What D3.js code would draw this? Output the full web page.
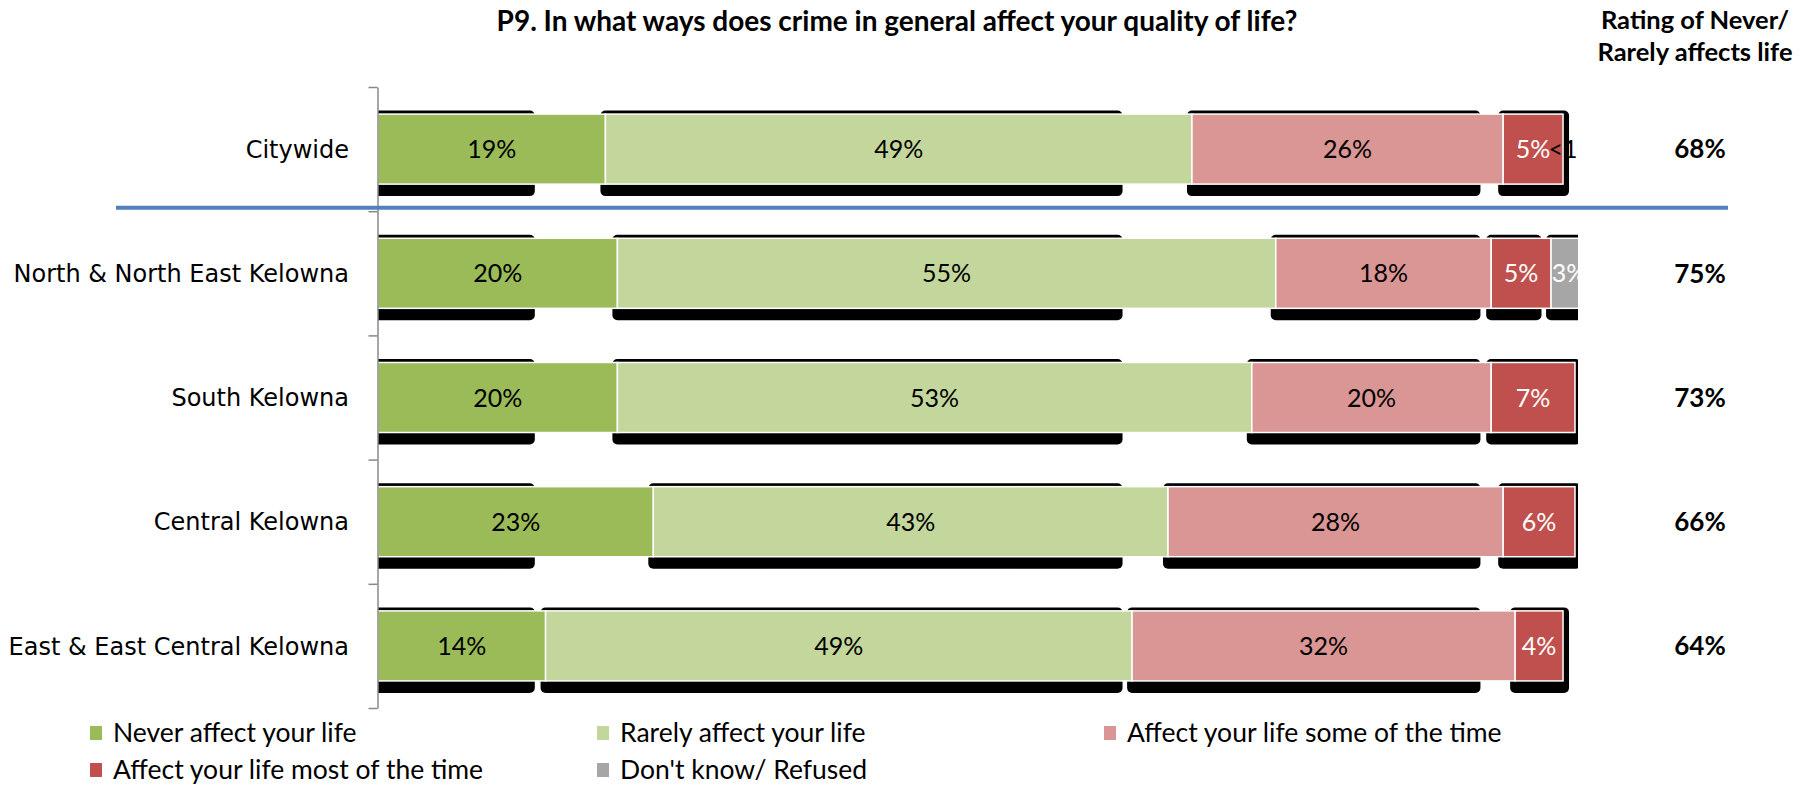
<!DOCTYPE html>
<html><head><meta charset="utf-8">
<script src="https://cdn.jsdelivr.net/npm/d3@7"></script>
<style>body{margin:0;background:#fff} svg{display:block}</style>
</head><body><svg id="c" width="1814" height="786"></svg>
<script>
const categories = ["Citywide","North & North East Kelowna","South Kelowna","Central Kelowna","East & East Central Kelowna"];
const seriesNames = ["Never affect your life","Rarely affect your life","Affect your life some of the time","Affect your life most of the time","Don't know/ Refused"];
const neverVals  = [19,20,20,23,14];
const rarelyVals = [49,55,53,43,49];
const someVals   = [26,18,20,28,32];
const mostVals   = [5,5,7,6,4];
const dkVals     = [0,3,0,0,0];
const dkLabels   = ["<1","3%","","",""];
const ratingVals = [68,75,73,66,64];
const titleText = "P9. In what ways does crime in general affect your quality of life?";
const ratingHeader = ["Rating of Never/","Rarely affects life"];

const colors = ["#9BBB59","#C3D69B","#D99694","#C0504D","#A6A6A6"];
const labelColors = ["#000","#000","#000","#fff","#fff"];
const shadowCut = [13.1, 62.2, 92.1, 97.2];

const svg = d3.select("#c");
const x = d3.scaleLinear().domain([0,100]).range([378,1575]);
const y = d3.scaleBand().domain(categories).range([87,708]).paddingInner(0.436).paddingOuter(0.218);
const yLin = d3.scaleLinear().domain([0,categories.length]).range([87,708]);
const bw = y.bandwidth();

const series = [neverVals, rarelyVals, someVals, mostVals, dkVals];
const rows = categories.map((c,ci)=>{
  let acc = 0;
  const segs = series.map((s,si)=>{ const o={ci,si,cat:c,v:s[ci],x0:acc,x1:acc+s[ci]}; acc+=s[ci]; return o;});
  return {cat:c, ci, segs};
});

svg.append("defs").append("clipPath").attr("id","plotclip")
  .append("rect").attr("x",378).attr("y",0).attr("width",1200).attr("height",786);

// title
svg.append("text").attr("x",897).attr("y",31).attr("text-anchor","middle")
  .attr("font-family","Lato").attr("font-weight","bold").attr("font-size",28).text(titleText);
svg.append("g").selectAll("text").data(ratingHeader).join("text")
  .attr("x",1695).attr("y",(d,i)=>29+i*32).attr("text-anchor","middle")
  .attr("font-family","Lato").attr("font-weight","bold").attr("font-size",25.5).text(d=>d);

const plot = svg.append("g").attr("clip-path","url(#plotclip)");

// shadows
rows.forEach(r=>{
  r.segs.forEach((s,i)=>{
    if(s.v<=0) return;
    let sx0 = x(s.x0)-5, sx1 = x(s.x1)+6;
    const next = r.segs[i+1];
    if(next && next.v>0 && i<shadowCut.length) sx1 = Math.min(sx1, x(shadowCut[i]));
    plot.append("rect").attr("x",sx0).attr("y",y(r.cat)-3.5)
      .attr("width",Math.max(0,sx1-sx0)).attr("height",bw+15.5)
      .attr("rx",5).attr("fill","#000");
  });
});

// bars
rows.forEach(r=>{
  plot.selectAll(null).data(r.segs.filter(s=>s.v>0)).join("rect")
    .attr("x",d=>x(d.x0)).attr("y",y(r.cat)).attr("width",d=>x(d.x1)-x(d.x0)).attr("height",bw)
    .attr("fill",d=>colors[d.si]).attr("stroke","#fff").attr("stroke-width",1.5);
});

// value labels
rows.forEach(r=>{
  r.segs.forEach(s=>{
    const lab = s.si===4 ? dkLabels[s.ci] : (s.v+"%");
    if(!lab) return;
    plot.append("text").attr("x",x((s.x0+s.x1)/2)).attr("y",y(r.cat)+bw/2).attr("dy","0.36em")
      .attr("text-anchor","middle").attr("font-family","Lato").attr("font-size",25)
      .attr("fill", s.v>0 ? labelColors[s.si] : "#000").text(lab);
  });
});

// axis
const axis = svg.append("g").attr("transform","translate(377.5,0)")
  .call(d3.axisLeft(yLin).ticks(categories.length).tickSizeInner(9).tickSizeOuter(0).tickFormat(""));
axis.select(".domain").attr("stroke","#888").attr("stroke-width",1.5);
axis.selectAll(".tick line").attr("stroke","#888").attr("stroke-width",1.5);

// category labels
svg.append("g").selectAll("text").data(categories).join("text")
  .attr("x",349).attr("y",d=>y(d)+bw/2).attr("dy","0.36em").attr("text-anchor","end")
  .attr("font-family","DejaVu Sans").attr("font-size",24).attr("fill","#000").text(d=>d);

// separator
svg.append("line").attr("x1",116).attr("x2",1728).attr("y1",yLin(1)-3.5).attr("y2",yLin(1)-3.5)
  .attr("stroke","#4F81BD").attr("stroke-width",4);

// rating values
svg.append("g").selectAll("text").data(ratingVals).join("text")
  .attr("x",1700).attr("y",(d,i)=>y(categories[i])+bw/2).attr("dy","0.36em").attr("text-anchor","middle")
  .attr("font-family","Lato").attr("font-weight","bold").attr("font-size",26).text(d=>d+"%");

// legend
const lg = svg.append("g").selectAll("g").data(seriesNames).join("g")
  .attr("transform",(d,i)=>`translate(${90+(i%3)*507},${726+Math.floor(i/3)*37})`);
lg.append("rect").attr("width",12).attr("height",14).attr("fill",(d,i)=>colors[i]);
lg.append("text").attr("x",23).attr("y",15.5).attr("font-family","Lato").attr("font-size",26.5).text(d=>d);
</script></body></html>
